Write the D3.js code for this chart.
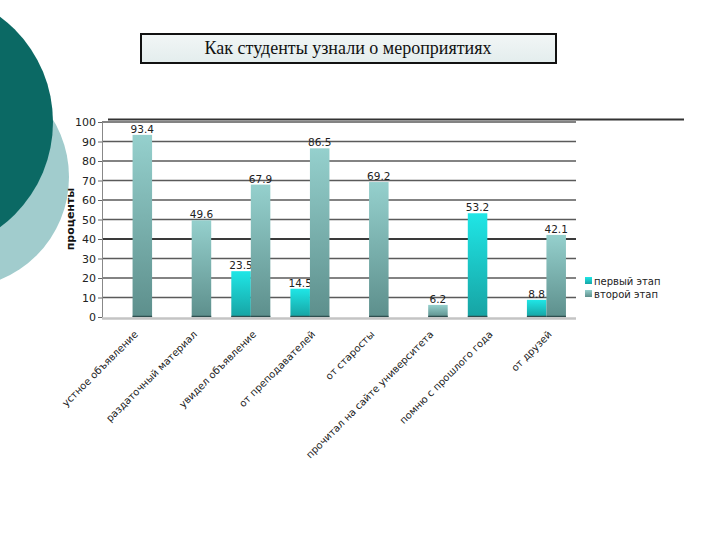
<!DOCTYPE html>
<html><head><meta charset="utf-8">
<script src="https://cdn.jsdelivr.net/npm/d3@7"></script>
<style>body{margin:0;background:#fff}svg{display:block}</style>
</head><body>
<svg id="c" width="720" height="540"></svg>
<script>
const categories = ["устное объявление","раздаточный материал","увидел объявление","от преподавателей","от старосты","прочитал на сайте университета","помню с прошлого года","от друзей"];
const seriesNames = ["первый этап","второй этап"];
const firstStage = [null, null, 23.5, 14.5, null, null, 53.2, 8.8];
const secondStage = [93.4, 49.6, 67.9, 86.5, 69.2, 6.2, null, 42.1];
const yTicks = [0,10,20,30,40,50,60,70,80,90,100];
const title = "Как студенты узнали о мероприятиях";
const yTitle = "проценты";

const svg = d3.select("#c");
const defs = svg.append("defs");
function grad(id, top, bot){
  const g = defs.append("linearGradient").attr("id", id).attr("x1",0).attr("y1",0).attr("x2",0).attr("y2",1);
  g.append("stop").attr("offset","0%").attr("stop-color",top);
  g.append("stop").attr("offset","100%").attr("stop-color",bot);
}
grad("g1","#1fe6e6","#17a3a3");
grad("g2","#95d0cd","#5d8f8c");
grad("gt","#f2f6f6","#e3eded");

// decoration circles
svg.append("circle").attr("cx",-42).attr("cy",177).attr("r",111).attr("fill","#a1cccd");
svg.append("circle").attr("cx",-78).attr("cy",122).attr("r",131).attr("fill","#0b6964");

// title box
svg.append("rect").attr("x",141).attr("y",34).attr("width",415).attr("height",29)
  .attr("fill","url(#gt)").attr("stroke","#111").attr("stroke-width",2);
svg.append("text").attr("x",348).attr("y",54).attr("text-anchor","middle")
  .attr("font-family","Liberation Serif, Times New Roman, serif").attr("font-size",18).attr("fill","#111").text(title);

// decorative line
svg.append("line").attr("x1",108).attr("x2",684).attr("y1",119.5).attr("y2",119.5).attr("stroke","#333").attr("stroke-width",2);

const x0 = d3.scaleBand().domain(categories).range([103,576]).paddingInner(0.34).paddingOuter(0.17);
const x1 = d3.scaleBand().domain(seriesNames).range([0, x0.bandwidth()]);
const y = d3.scaleLinear().domain([0,100]).range([317,122]);

// gridlines
svg.append("g").selectAll("line").data(yTicks.filter(d=>d>0)).join("line")
  .attr("x1",102).attr("x2",576).attr("y1",d=>y(d)).attr("y2",d=>y(d))
  .attr("stroke", d=>d===40?"#3a3a3a":"#5a5a5a").attr("stroke-width", d=>d===40?2:1.3);

// y axis
const ya = svg.append("g").attr("transform","translate(102,0)").call(d3.axisLeft(y).tickValues(yTicks).tickSize(4).tickPadding(2));
ya.select(".domain").attr("stroke","#888");
ya.selectAll(".tick line").attr("stroke","#666");
ya.selectAll("text").attr("font-family","DejaVu Sans, Verdana, sans-serif").attr("font-size",11).attr("fill","#222");

svg.append("text").attr("transform","translate(74,219) rotate(-90)").attr("text-anchor","middle")
  .attr("font-family","DejaVu Sans, Verdana, sans-serif").attr("font-size",11).attr("font-weight","bold").attr("fill","#111").text(yTitle);

// bars
const series = [firstStage, secondStage];
const fills = ["url(#g1)","url(#g2)"];
series.forEach((vals, si) => {
  const data = categories.map((c,i)=>({c, v: vals[i]})).filter(d=>d.v!=null);
  const g = svg.append("g");
  g.selectAll("rect").data(data).join("rect")
    .attr("x", d=>x0(d.c)+x1(seriesNames[si])).attr("width", x1.bandwidth())
    .attr("y", d=>y(d.v)).attr("height", d=>y(0)-y(d.v)).attr("fill", fills[si]);
  g.selectAll("line").data(data).join("line")
    .attr("x1", d=>x0(d.c)+x1(seriesNames[si])).attr("x2", d=>x0(d.c)+x1(seriesNames[si])+x1.bandwidth())
    .attr("y1", y(0)-0.5).attr("y2", y(0)-0.5).attr("stroke","#2f4f4f").attr("stroke-width",1.5);
  g.selectAll("text").data(data).join("text")
    .attr("x", d=>x0(d.c)+x1(seriesNames[si])+x1.bandwidth()/2).attr("y", d=>y(d.v)-2)
    .attr("text-anchor","middle").attr("font-family","DejaVu Sans, Verdana, sans-serif").attr("font-size",10.5).attr("fill","#222")
    .text(d=>d.v);
});

// floor line
svg.append("line").attr("x1",102).attr("x2",576).attr("y1",318.5).attr("y2",318.5).attr("stroke","#c4c4c4").attr("stroke-width",2.5);

// x labels
svg.append("g").selectAll("text").data(categories).join("text")
  .attr("transform", d=>`translate(${x0(d)+x0.bandwidth()/2+6},335) rotate(-45)`)
  .attr("text-anchor","end").attr("font-family","DejaVu Sans, Verdana, sans-serif").attr("font-size",10).attr("fill","#222")
  .text(d=>d);

// legend
const lg = svg.append("g").attr("transform","translate(585,277)");
seriesNames.forEach((n,i)=>{
  lg.append("rect").attr("x",0).attr("y",i*13).attr("width",7).attr("height",7).attr("fill",fills[i]);
  lg.append("text").attr("x",9).attr("y",i*13+7.5).attr("font-family","DejaVu Sans, Verdana, sans-serif").attr("font-size",10).attr("fill","#222").text(n);
});
</script>
</body></html>
